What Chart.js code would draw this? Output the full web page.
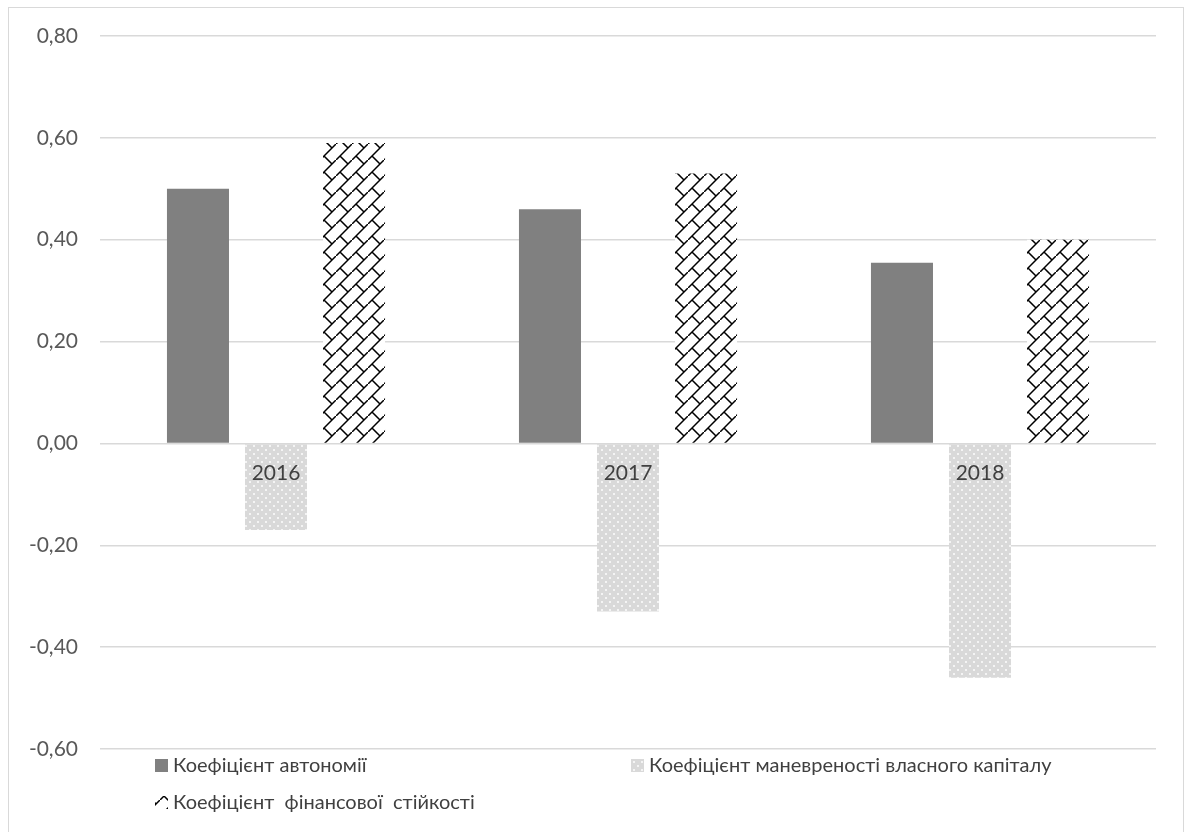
<!DOCTYPE html>
<html>
<head>
<meta charset="utf-8">
<script src="https://cdn.jsdelivr.net/npm/chart.js@4"></script>
<style>
  html, body { margin: 0; padding: 0; background: #fff; overflow: hidden; }
  #frame { position: absolute; left: 8px; top: 7px; width: 1176px; height: 840px; border: 1px solid #d9d9d9; box-sizing: border-box; }
  #wrap { position: absolute; left: 0; top: 0; width: 1187px; height: 832px; }
</style>
</head>
<body>
<div id="frame"></div>
<div id="wrap"><canvas id="barChart"></canvas></div>
<script>
const categories = ['2016', '2017', '2018'];
const autonomy = [0.50, 0.46, 0.355];
const maneuverability = [-0.17, -0.33, -0.46];
const stability = [0.59, 0.53, 0.40];
const seriesNames = [
    'Коефіцієнт автономії',
    'Коефіцієнт маневреності власного капіталу',
    'Коефіцієнт  фінансової  стійкості'
];
const yMin = -0.6, yMax = 0.8, yStep = 0.2;

const FONT = 'Lato, "Open Sans", sans-serif';

// light grey fill with small white dots
function dotPattern() {
    const c = document.createElement('canvas');
    c.width = 8; c.height = 8;
    const g = c.getContext('2d');
    g.fillStyle = '#d9d9d9';
    g.fillRect(0, 0, 8, 8);
    g.fillStyle = '#f4f4f4';
    g.fillRect(1, 1, 2, 2);
    g.fillRect(5, 5, 2, 2);
    return g.createPattern(c, 'repeat');
}

// black diagonal brick on white (one tick per tile gives staggered bricks)
function brickPattern() {
    const n = 16;
    const c = document.createElement('canvas');
    c.width = n; c.height = n;
    const g = c.getContext('2d');
    g.fillStyle = '#ffffff';
    g.fillRect(0, 0, n, n);
    g.strokeStyle = '#000000';
    g.lineWidth = 1.5;
    g.beginPath();
    g.moveTo(-1, n + 1); g.lineTo(n + 1, -1);
    g.moveTo(4, 12); g.lineTo(12, 20);
    g.moveTo(4, -4); g.lineTo(12, 4);
    g.stroke();
    return g.createPattern(c, 'repeat');
}

const fmt = v => (Math.abs(v) < 1e-9 ? 0 : v).toFixed(2).replace('.', ',');

// category labels sit just under the zero line, over the bars
const zeroLineLabels = {
    id: 'zeroLineLabels',
    afterDatasetsDraw(chart) {
        const ctx = chart.ctx;
        const x = chart.scales.x;
        const y0 = chart.scales.y.getPixelForValue(0);
        ctx.save();
        ctx.font = '21px ' + FONT;
        ctx.fillStyle = '#404040';
        ctx.textAlign = 'center';
        ctx.textBaseline = 'middle';
        chart.data.labels.forEach((lab, i) => {
            ctx.fillText(lab, x.getPixelForValue(i), y0 + 30);
        });
        ctx.restore();
    }
};

// legend drawn in two columns under the plot
const bottomLegend = {
    id: 'bottomLegend',
    afterDraw(chart) {
        const ctx = chart.ctx;
        const a = chart.chartArea;
        const slots = [
            { x: a.left + 55, y: a.bottom + 17 },
            { x: a.left + 531, y: a.bottom + 17 },
            { x: a.left + 55, y: a.bottom + 54 }
        ];
        ctx.save();
        ctx.font = '20px ' + FONT;
        ctx.textBaseline = 'middle';
        chart.data.datasets.forEach((ds, i) => {
            const s = slots[i];
            ctx.fillStyle = ds.backgroundColor;
            ctx.fillRect(s.x, s.y - 7, 13, 13);
            ctx.fillStyle = '#404040';
            ctx.fillText(ds.label, s.x + 18, s.y);
        });
        ctx.restore();
    }
};

const ctx = document.getElementById('barChart').getContext('2d');
const myChart = new Chart(ctx, {
    type: 'bar',
    data: {
        labels: categories,
        datasets: [{
            label: seriesNames[0],
            data: autonomy,
            backgroundColor: '#808080'
        }, {
            label: seriesNames[1],
            data: maneuverability,
            backgroundColor: dotPattern()
        }, {
            label: seriesNames[2],
            data: stability,
            backgroundColor: brickPattern()
        }]
    },
    options: {
        responsive: true,
        maintainAspectRatio: false,
        animation: false,
        categoryPercentage: 0.665,
        barPercentage: 0.795,
        layout: {
            padding: { left: 10, right: 31, top: 36, bottom: 83 }
        },
        plugins: {
            legend: { display: false },
            tooltip: { enabled: false }
        },
        scales: {
            x: {
                display: false
            },
            y: {
                min: yMin,
                max: yMax,
                afterFit(scale) { scale.width = 90; },
                grid: { color: '#d9d9d9', lineWidth: 1.5, drawTicks: false },
                border: { display: false },
                ticks: {
                    stepSize: yStep,
                    padding: 22,
                    color: '#595959',
                    font: { family: FONT, size: 21 },
                    callback: v => fmt(v)
                }
            }
        }
    },
    plugins: [zeroLineLabels, bottomLegend]
});
</script>
</body>
</html>
